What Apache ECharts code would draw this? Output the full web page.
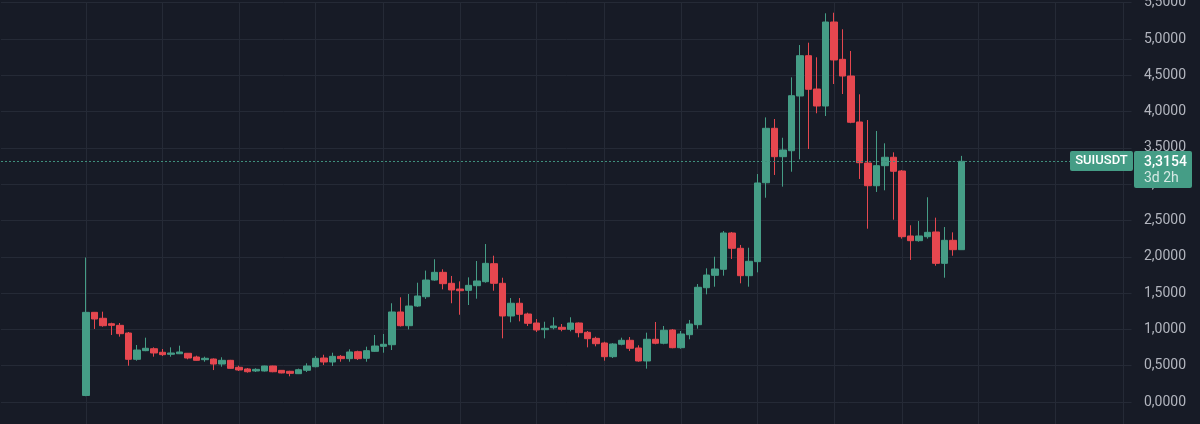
<!DOCTYPE html>
<html>
<head>
<meta charset="utf-8">
<script src="https://cdn.jsdelivr.net/npm/echarts@6/dist/echarts.min.js"></script>
<style>
html,body{margin:0;padding:0;background:#171b26;}
#chart{width:1200px;height:424px;}
</style>
</head>
<body>
<div id="chart"></div>
<script>
// ---- data (weekly SUIUSDT candles, first week 2023-05-01) ----
const symbol = 'SUIUSDT';
const timeLeft = '3d 2h';
const firstWeek = [2023, 4, 1]; // 2023-05-01 (UTC, month 0-based)
const padBefore = 10;
const padAfter = 20;
const yTickStep = 0.5;
const yMin = -0.5;
const yMax = 5.5;

const opens = [0.09,1.235,1.153,1.078,1.056,0.950,0.588,0.707,0.734,0.685,0.657,0.665,0.671,0.620,0.583,0.592,0.523,0.574,0.478,0.455,
0.427,0.427,0.496,0.436,0.423,0.390,0.437,0.486,0.606,0.551,0.629,0.597,0.693,0.602,0.698,0.767,0.789,1.240,1.051,1.322,
1.450,1.680,1.786,1.635,1.556,1.538,1.602,1.657,1.905,1.635,1.185,1.360,1.212,1.088,0.996,1.023,1.029,1.001,1.088,0.960,
0.877,0.813,0.624,0.795,0.850,0.744,0.565,0.864,0.809,0.992,0.748,0.927,1.065,1.574,1.745,1.828,2.328,2.117,1.740,1.933,
3.020,3.770,3.379,3.461,4.215,4.770,4.311,4.077,5.234,4.720,4.490,3.857,3.292,2.979,3.255,3.371,3.182,2.287,2.222,2.277,
2.342,1.910,2.227,2.098];
const highs = [1.99,1.240,1.244,1.092,1.088,0.964,0.785,0.886,0.753,0.730,0.753,0.776,0.675,0.638,0.624,0.600,0.616,0.580,0.500,0.468,
0.464,0.500,0.500,0.440,0.430,0.460,0.533,0.634,0.651,0.679,0.647,0.726,0.707,0.762,0.923,0.937,1.360,1.442,1.488,1.643,
1.810,1.966,1.828,1.736,1.662,1.717,1.942,2.176,2.015,1.712,1.432,1.432,1.230,1.143,1.106,1.167,1.074,1.167,1.095,0.978,
0.899,0.830,0.810,0.886,0.895,0.781,0.955,1.102,1.047,1.005,0.978,1.130,1.625,1.841,2.001,2.355,2.342,2.163,2.125,3.140,
3.920,3.898,3.640,4.472,4.917,4.949,4.748,5.354,5.362,5.134,4.835,4.238,3.884,3.733,3.563,3.439,3.196,2.434,2.493,2.820,
2.539,2.410,2.337,3.390];
const lows = [0.08,1.006,1.037,0.923,0.900,0.500,0.569,0.700,0.624,0.634,0.624,0.660,0.588,0.570,0.555,0.440,0.486,0.460,0.427,0.404,
0.413,0.420,0.410,0.395,0.354,0.385,0.413,0.478,0.510,0.496,0.555,0.555,0.579,0.555,0.690,0.679,0.716,1.040,1.000,1.310,
1.420,1.670,1.552,1.360,1.202,1.336,1.423,1.643,1.533,0.877,1.098,1.111,1.047,0.964,0.877,1.000,0.974,0.974,0.891,0.753,
0.767,0.569,0.606,0.781,0.702,0.555,0.459,0.795,0.795,0.740,0.734,0.864,1.010,1.483,1.588,1.740,1.970,1.635,1.588,1.786,
2.814,3.127,2.966,3.172,3.343,3.485,3.977,3.939,4.380,4.242,3.840,3.072,2.387,2.893,2.916,2.511,2.250,1.956,2.208,2.250,
1.877,1.712,2.015,2.098];
const closes = [1.235,1.143,1.051,1.056,0.941,0.588,0.716,0.740,0.675,0.652,0.675,0.689,0.606,0.574,0.602,0.523,0.574,0.464,0.441,0.417,
0.450,0.496,0.417,0.400,0.395,0.445,0.496,0.602,0.551,0.629,0.597,0.689,0.597,0.707,0.771,0.795,1.240,1.051,1.322,1.460,
1.680,1.786,1.630,1.543,1.533,1.607,1.667,1.910,1.635,1.185,1.360,1.208,1.084,0.992,1.015,1.047,1.001,1.088,0.955,0.872,
0.803,0.624,0.799,0.850,0.740,0.565,0.864,0.809,0.988,0.748,0.937,1.074,1.580,1.749,1.832,2.328,2.117,1.740,1.938,3.017,
3.770,3.379,3.471,4.219,4.770,4.307,4.077,5.234,4.711,4.490,3.853,3.296,2.979,3.255,3.371,3.178,2.277,2.222,2.287,2.337,
1.910,2.227,2.098,3.3154];

// ---- build categories and series ----
const WEEK = 7 * 86400000;
const startMs = Date.UTC(firstWeek[0], firstWeek[1], firstWeek[2]);
const nTotal = padBefore + opens.length + padAfter;
const categories = [];
for (let k = 0; k < nTotal; k++) {
  categories.push(new Date(startMs + (k - padBefore) * WEEK).toISOString().slice(0, 10));
}
const candleData = [];
for (let k = 0; k < nTotal; k++) {
  const i = k - padBefore;
  if (i >= 0 && i < opens.length) candleData.push([opens[i], closes[i], lows[i], highs[i]]);
  else candleData.push('-');
}
const lastClose = closes[closes.length - 1];
const fmt = v => v.toFixed(4).replace('.', ',');

const UP = '#459d86', DOWN = '#e5474f';
const BG = '#171b26', GRID = '#252a36';

const chart = echarts.init(document.getElementById('chart'), null, {renderer: 'canvas'});
chart.setOption({
  backgroundColor: BG,
  animation: false,
  grid: {left: 1, right: 68.5, top: 2.7, height: 435.6, containLabel: false, outerBoundsMode: 'none'},
  xAxis: {
    type: 'category',
    data: categories,
    boundaryGap: false,
    axisLine: {show: false},
    axisTick: {show: false},
    axisLabel: {show: false},
    splitLine: {
      show: true,
      lineStyle: {color: GRID, width: 1},
      interval: function (index, value) {
        if (index < padBefore) return false;
        const m = parseInt(value.slice(5, 7), 10);
        const d = parseInt(value.slice(8, 10), 10);
        return d <= 7 && (m % 2 === 1);
      }
    }
  },
  yAxis: {
    type: 'value',
    position: 'right',
    min: yMin, max: yMax, interval: yTickStep,
    scale: false,
    axisLine: {show: false},
    axisTick: {show: false},
    splitLine: {show: true, lineStyle: {color: GRID, width: 1}},
    axisLabel: {
      color: '#b2b5be',
      fontFamily: 'Roboto',
      fontSize: 14,
      align: 'right',
      margin: 54.5,
      formatter: v => fmt(v)
    }
  },
  series: [{
    type: 'candlestick',
    data: candleData,
    barWidth: 7,
    itemStyle: {color: UP, color0: DOWN, borderColor: UP, borderColor0: DOWN, borderWidth: 1},
    markLine: {
      silent: true,
      symbol: ['none', 'none'],
      label: {show: false},
      lineStyle: {color: '#3f8f7c', type: [2, 2], width: 1},
      data: [{yAxis: lastClose}]
    }
  }]
});

const py = chart.convertToPixel({yAxisIndex: 0}, lastClose);
chart.setOption({
  graphic: [
    {
      type: 'rect', z: 100,
      shape: {x: 1070, y: Math.round(py) - 10, width: 63, height: 20, r: 2},
      style: {fill: UP}
    },
    {
      type: 'text', z: 101,
      x: 1101.5, y: Math.round(py),
      style: {text: symbol, fill: '#ffffff', font: '500 13px Roboto', align: 'center', verticalAlign: 'middle'}
    },
    {
      type: 'rect', z: 100,
      shape: {x: 1134, y: Math.round(py) - 10, width: 58, height: 37, r: 2},
      style: {fill: UP}
    },
    {
      type: 'text', z: 101,
      x: 1144, y: Math.round(py) + 1,
      style: {text: fmt(lastClose), fill: '#ffffff', font: '500 14px Roboto', align: 'left', verticalAlign: 'middle'}
    },
    {
      type: 'text', z: 101,
      x: 1144, y: Math.round(py) + 17,
      style: {text: timeLeft, fill: 'rgba(255,255,255,0.78)', font: '14px Roboto', align: 'left', verticalAlign: 'middle'}
    }
  ]
});
</script>
</body>
</html>
